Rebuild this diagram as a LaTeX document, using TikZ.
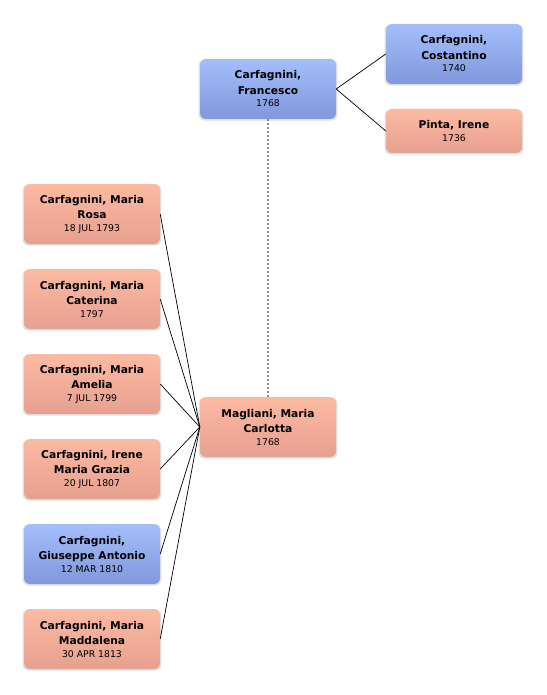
\documentclass[tikz,border=0pt]{standalone}
\usepackage{fontspec}
\setmainfont{DejaVu Sans}
\usetikzlibrary{shadows}

\definecolor{maleTop}{HTML}{A4BEFB}
\definecolor{maleBot}{HTML}{8098DC}
\definecolor{femTop}{HTML}{FDBAA2}
\definecolor{femBot}{HTML}{E6A090}

\newcommand{\born}[1]{\\[-3pt]{\fontsize{9.3}{10}\selectfont\mdseries #1}}

\begin{document}
\begin{tikzpicture}[x=1pt, y=-1pt,
    person/.style={draw=none, rounded corners=6pt,
        minimum width=136pt, minimum height=60pt, align=center,
        inner sep=2pt, font=\fontsize{10.7}{15.5}\selectfont\bfseries,
        drop shadow={shadow xshift=0pt, shadow yshift=-1pt,
            shadow scale=1.02, opacity=0.2, fill=black!60}},
    male/.style={person, top color=maleTop, bottom color=maleBot},
    female/.style={person, top color=femTop, bottom color=femBot},
    link/.style={draw=black, line width=0.7pt},
    spouse/.style={draw=black!45, line width=1.3pt,
        dash pattern=on 2pt off 2pt},
]

\useasboundingbox (0,0) rectangle (546,695);

% === Column positions ===
\def\colL{92}      % children
\def\colM{268}     % couple
\def\colR{454}     % grandparents

% === Grandparents ===
\node[male] (costantino) at (\colR, 54)
    {Carfagnini,\\Costantino\born{1740}};
\node[female, minimum height=44pt] (irene) at (\colR, 131)
    {Pinta, Irene\born{1736}};

% === Couple ===
\node[male] (francesco) at (\colM, 89)
    {Carfagnini,\\Francesco\born{1768}};
\node[female] (carlotta) at (\colM, 427)
    {Magliani, Maria\\Carlotta\born{1768}};

% === Children ===
\node[female] (rosa) at (\colL, 214)
    {Carfagnini, Maria\\Rosa\born{18 JUL 1793}};
\node[female] (caterina) at (\colL, 299)
    {Carfagnini, Maria\\Caterina\born{1797}};
\node[female] (amelia) at (\colL, 384)
    {Carfagnini, Maria\\Amelia\born{7 JUL 1799}};
\node[female] (grazia) at (\colL, 469)
    {Carfagnini, Irene\\Maria Grazia\born{20 JUL 1807}};
\node[male] (giuseppe) at (\colL, 554)
    {Carfagnini,\\Giuseppe Antonio\born{12 MAR 1810}};
\node[female] (maddalena) at (\colL, 639)
    {Carfagnini, Maria\\Maddalena\born{30 APR 1813}};

% Parents of Francesco
\draw[link] (francesco.east) -- (costantino.west);
\draw[link] (francesco.east) -- (irene.west);

% Marriage
\draw[spouse] (francesco.south) -- (carlotta.north);

% Children to mother
\draw[link] (rosa.east) -- (carlotta.west);
\draw[link] (caterina.east) -- (carlotta.west);
\draw[link] (amelia.east) -- (carlotta.west);
\draw[link] (grazia.east) -- (carlotta.west);
\draw[link] (giuseppe.east) -- (carlotta.west);
\draw[link] (maddalena.east) -- (carlotta.west);

\end{tikzpicture}
\end{document}
